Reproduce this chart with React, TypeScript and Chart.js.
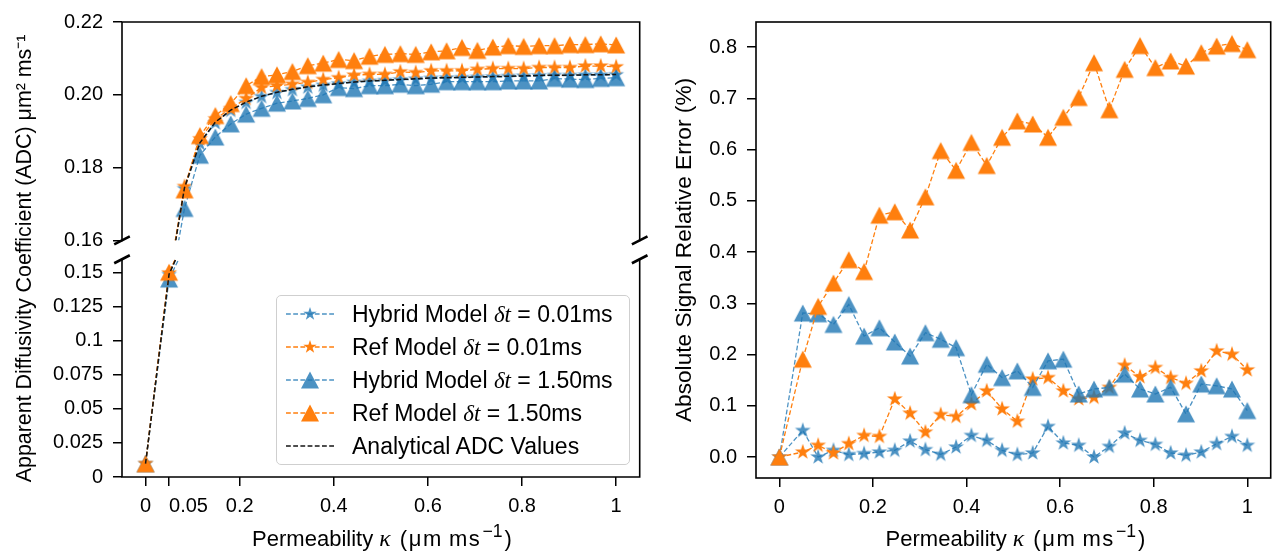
import React, { useEffect, useRef } from 'react';
import { Chart, registerables } from 'chart.js';

Chart.register(...registerables);

const FONT = "'Liberation Sans', Arial, sans-serif";
const MATH = "'Liberation Serif', 'DejaVu Serif', serif";

// ---------------- data ----------------
const kappa = [0, 0.05, 0.0828, 0.1155, 0.1483, 0.181, 0.2138, 0.2466, 0.2793, 0.3121, 0.3448, 0.3776, 0.4103, 0.4431, 0.4759, 0.5086, 0.5414, 0.5741, 0.6069, 0.6397, 0.6724, 0.7052, 0.7379, 0.7707, 0.8034, 0.8362, 0.869, 0.9017, 0.9345, 0.9672, 1.0];

const adcHybridFine = [0.0098, 0.1488, 0.1742, 0.1866, 0.1923, 0.1957, 0.1979, 0.1995, 0.2006, 0.2014, 0.2021, 0.2026, 0.203, 0.2034, 0.2037, 0.2039, 0.2041, 0.2043, 0.2045, 0.2046, 0.2047, 0.2048, 0.2049, 0.205, 0.2051, 0.2052, 0.2053, 0.2053, 0.2054, 0.2054, 0.2055];
const adcRefFine = [0.0099, 0.15, 0.1748, 0.1879, 0.1934, 0.1962, 0.199, 0.202, 0.2025, 0.2029, 0.2034, 0.2042, 0.2047, 0.2054, 0.2056, 0.2056, 0.2063, 0.2061, 0.2066, 0.2066, 0.2066, 0.207, 0.2072, 0.2072, 0.2072, 0.2075, 0.2075, 0.2075, 0.2079, 0.2079, 0.2077];
const adcHybridCoarse = [0.0097, 0.1455, 0.1688, 0.1834, 0.1884, 0.192, 0.1947, 0.1963, 0.1977, 0.1983, 0.199, 0.2, 0.202, 0.2017, 0.2025, 0.2025, 0.2029, 0.2025, 0.2029, 0.2036, 0.2036, 0.2036, 0.2036, 0.2038, 0.2038, 0.2038, 0.2045, 0.2043, 0.2042, 0.2045, 0.2047];
const adcRefCoarse = [0.0097, 0.1505, 0.1739, 0.1888, 0.1943, 0.1976, 0.2025, 0.205, 0.2055, 0.2064, 0.208, 0.2087, 0.2097, 0.2094, 0.2106, 0.2111, 0.2113, 0.2111, 0.2118, 0.2121, 0.213, 0.2122, 0.2131, 0.2135, 0.2133, 0.2135, 0.2135, 0.2138, 0.2138, 0.214, 0.2137];
const adcAnalytical = [0.0098, 0.149, 0.1745, 0.1868, 0.1925, 0.1958, 0.198, 0.1996, 0.2007, 0.2015, 0.2022, 0.2027, 0.2031, 0.2035, 0.2038, 0.204, 0.2042, 0.2044, 0.2046, 0.2047, 0.2048, 0.2049, 0.205, 0.2051, 0.2052, 0.2053, 0.2054, 0.2054, 0.2055, 0.2055, 0.2056];

const errHybridFine = [0, 0.0518, 0.0, 0.013, 0.0047, 0.0066, 0.0097, 0.013, 0.031, 0.0143, 0.0052, 0.0194, 0.042, 0.0324, 0.013, 0.0047, 0.0078, 0.0596, 0.0272, 0.0227, 0.0, 0.0207, 0.0466, 0.0324, 0.0246, 0.0078, 0.0033, 0.0097, 0.026, 0.04, 0.0227];
const errRefFine = [0, 0.0097, 0.0227, 0.0078, 0.026, 0.042, 0.04, 0.1133, 0.0854, 0.0485, 0.0828, 0.079, 0.1036, 0.129, 0.0939, 0.0698, 0.152, 0.155, 0.129, 0.1133, 0.1164, 0.1358, 0.179, 0.1565, 0.1746, 0.155, 0.1436, 0.168, 0.207, 0.2005, 0.17];
const errHybridCoarse = [0, 0.281, 0.2795, 0.2588, 0.2976, 0.236, 0.2522, 0.2245, 0.197, 0.2425, 0.2297, 0.2134, 0.1216, 0.181, 0.155, 0.168, 0.1358, 0.1876, 0.191, 0.123, 0.1327, 0.1358, 0.1618, 0.1327, 0.123, 0.136, 0.0842, 0.1424, 0.139, 0.1327, 0.0906];
const errRefCoarse = [0, 0.191, 0.294, 0.3395, 0.385, 0.362, 0.472, 0.4786, 0.443, 0.5077, 0.598, 0.5595, 0.614, 0.569, 0.624, 0.656, 0.65, 0.624, 0.663, 0.7017, 0.7695, 0.6778, 0.7566, 0.803, 0.76, 0.773, 0.763, 0.789, 0.802, 0.807, 0.795];

const seriesNames = ['Hybrid Model', 'Ref Model', 'Hybrid Model', 'Ref Model', 'Analytical ADC Values'];
const seriesSteps = ['0.01ms', '0.01ms', '1.50ms', '1.50ms', ''];

const xTicksLeft = [0, 0.05, 0.2, 0.4, 0.6, 0.8, 1];
// the 0.05 label sits to the right of its tick (left-aligned), as in the source figure
const xTickLabelsLeft = ['0', '       0.05', '0.2', '0.4', '0.6', '0.8', '1'];
const yTopTicks = [0.16, 0.18, 0.2, 0.22];
const yTopTickLabels = ['0.16', '0.18', '0.20', '0.22'];
const yBotTicks = [0, 0.025, 0.05, 0.075, 0.1, 0.125, 0.15];
const yBotTickLabels = ['0', '0.025', '0.05', '0.075', '0.1', '0.125', '0.15'];
const xTicksRight = [0, 0.2, 0.4, 0.6, 0.8, 1];
const xTickLabelsRight = ['0', '0.2', '0.4', '0.6', '0.8', '1'];
const yRightTicks = [0, 0.1, 0.2, 0.3, 0.4, 0.5, 0.6, 0.7, 0.8];
const yRightTickLabels = ['0.0', '0.1', '0.2', '0.3', '0.4', '0.5', '0.6', '0.7', '0.8'];

// ---------------- styles ----------------
const BLUE = 'rgba(31,119,180,0.8)';
const ORANGE = 'rgb(255,127,14)';
const BLACK = 'rgb(20,20,20)';
const TICK_SIZE = 20;
const LEGEND_SIZE = 23;
const STAR_R = 8.3;
const TRI_W = 18;
const TRI_H = 17;
const DASH = [4.8, 2.4];

type Kind = 'star' | 'tri';

function starPts(cx: number, cy: number, R: number): number[][] {
  const pts: number[][] = [];
  for (let i = 0; i < 10; i++) {
    const r = i % 2 === 0 ? R : R * 0.381966;
    const a = -Math.PI / 2 + (i * Math.PI) / 5;
    pts.push([cx + r * Math.cos(a), cy + r * Math.sin(a)]);
  }
  return pts;
}
function triPts(cx: number, cy: number, W: number, H: number): number[][] {
  return [[cx, cy - H / 2], [cx + W / 2, cy + H / 2], [cx - W / 2, cy + H / 2]];
}
function markerPts(kind: Kind, cx: number, cy: number, scale = 1) {
  return kind === 'star' ? starPts(cx, cy, STAR_R * scale) : triPts(cx, cy, TRI_W * scale, TRI_H * scale);
}

function makeMarker(kind: Kind, color: string): HTMLCanvasElement {
  const c = document.createElement('canvas');
  const S = 22;
  c.width = S;
  c.height = S;
  const ctx = c.getContext('2d')!;
  ctx.fillStyle = color;
  ctx.beginPath();
  markerPts(kind, S / 2, S / 2).forEach(([x, y], i) => (i ? ctx.lineTo(x, y) : ctx.moveTo(x, y)));
  ctx.closePath();
  ctx.fill();
  return c;
}

const clipPlugin = {
  id: 'scaleClip',
  beforeDatasetDraw(chart: any, args: any) {
    const meta = args.meta;
    const xs = meta.xScale;
    const ys = meta.yScale;
    const ctx = chart.ctx;
    ctx.save();
    ctx.beginPath();
    ctx.rect(xs.left, ys.top, xs.right - xs.left, ys.bottom - ys.top);
    ctx.clip();
  },
  afterDatasetDraw(chart: any) {
    chart.ctx.restore();
  },
};

const frameLeft = {
  id: 'frameLeft',
  afterDraw(chart: any) {
    const ctx = chart.ctx;
    const { left, right } = chart.chartArea;
    const t = chart.scales.yTop;
    const b = chart.scales.yBot;
    ctx.save();
    ctx.strokeStyle = '#000';
    ctx.lineWidth = 1.6;
    ctx.lineCap = 'square';
    ctx.beginPath();
    ctx.moveTo(left, t.bottom);
    ctx.lineTo(left, t.top);
    ctx.lineTo(right, t.top);
    ctx.lineTo(right, t.bottom);
    ctx.moveTo(left, b.top);
    ctx.lineTo(left, b.bottom);
    ctx.lineTo(right, b.bottom);
    ctx.lineTo(right, b.top);
    ctx.stroke();
    ctx.lineWidth = 2.6;
    ctx.lineCap = 'butt';
    ctx.beginPath();
    for (const x of [left, right]) {
      for (const y of [t.bottom, b.top]) {
        ctx.moveTo(x - 7.8, y + 4);
        ctx.lineTo(x + 7.8, y - 4);
      }
    }
    ctx.stroke();
    ctx.restore();
  },
};

const frameRight = {
  id: 'frameRight',
  afterDraw(chart: any) {
    const ctx = chart.ctx;
    const { left, right, top, bottom } = chart.chartArea;
    ctx.save();
    ctx.strokeStyle = '#000';
    ctx.lineWidth = 1.6;
    ctx.strokeRect(left, top, right - left, bottom - top);
    ctx.restore();
  },
};

function gridTicks() {
  return { display: true, drawOnChartArea: false, drawTicks: true, tickLength: 9, color: '#000', lineWidth: 1.5 };
}
function tickOpts(labels: string[], padding: number) {
  return {
    autoSkip: false,
    maxRotation: 0,
    minRotation: 0,
    padding,
    color: '#000',
    font: { family: FONT, size: TICK_SIZE },
    callback: (_v: any, i: number) => labels[i],
  };
}
function fixedTicks(values: number[]) {
  return (s: any) => {
    s.ticks = values.map((v) => ({ value: v }));
  };
}

function lineDs(label: string, xs: number[], ys: number[], color: string, marker: any, yAxisID: string, order: number) {
  return {
    label,
    data: xs.map((x, i) => ({ x, y: ys[i] })),
    borderColor: color,
    backgroundColor: color,
    borderWidth: 1.3,
    borderDash: DASH,
    pointStyle: marker,
    pointRadius: marker ? 9 : 0,
    pointHoverRadius: marker ? 9 : 0,
    tension: 0,
    fill: false,
    yAxisID,
    order,
  };
}

function XTitle({ center }: { center: number }) {
  return (
    <div
      style={{
        position: 'absolute',
        left: center - 200,
        top: 525,
        width: 400,
        height: 26,
        lineHeight: '26px',
        textAlign: 'center',
        fontFamily: FONT,
        fontSize: 22,
        color: '#000',
        whiteSpace: 'nowrap',
      }}
    >
      Permeability{' '}
      <span style={{ fontFamily: MATH, fontStyle: 'italic', fontSize: '1.08em', margin: '0 3px 0 0' }}>κ</span>{' '}
      <span style={{ letterSpacing: '1.6px' }}>(μm&#8201;ms</span>
      <span style={{ fontSize: '0.8em', position: 'relative', top: '-0.5em', lineHeight: 0, margin: '0 2px 0 1px' }}>−1</span>)
    </div>
  );
}

function Legend() {
  const kinds: (Kind | null)[] = ['star', 'star', 'tri', 'tri', null];
  const colors = [BLUE, ORANGE, BLUE, ORANGE, BLACK];
  return (
    <div
      style={{
        position: 'absolute',
        left: 276,
        top: 295,
        width: 354,
        height: 170,
        boxSizing: 'border-box',
        border: '1.4px solid #cfcfcf',
        borderRadius: 5,
        background: 'rgba(255,255,255,0.8)',
      }}
    >
      {seriesNames.map((name, i) => {
        const cy = 18 + 32.9 * i;
        const k = kinds[i];
        return (
          <div key={i} style={{ position: 'absolute', left: 0, top: cy - 14, height: 28, width: 350 }}>
            <svg width={60} height={28} style={{ position: 'absolute', left: 0, top: 0 }}>
              <line x1={9} y1={14} x2={57} y2={14} stroke={colors[i]} strokeWidth={k ? 1.3 : 1.5} strokeDasharray={DASH.join(' ')} />
              {k ? (
                <polygon points={markerPts(k, 33, 14, k === 'star' ? 0.85 : 1).map((p) => p.join(',')).join(' ')} fill={colors[i]} />
              ) : null}
            </svg>
            <div
              style={{
                position: 'absolute',
                left: 75,
                top: 0,
                height: 28,
                lineHeight: '28px',
                fontFamily: FONT,
                fontSize: LEGEND_SIZE,
                color: '#000',
                whiteSpace: 'nowrap',
              }}
            >
              {name}
              {seriesSteps[i] ? (
                <>
                  {' '}
                  <span style={{ fontFamily: MATH, fontStyle: 'italic' }}>δt</span>
                  {' = ' + seriesSteps[i]}
                </>
              ) : null}
            </div>
          </div>
        );
      })}
    </div>
  );
}

export default function App() {
  const leftRef = useRef<HTMLCanvasElement>(null);
  const rightRef = useRef<HTMLCanvasElement>(null);

  useEffect(() => {
    Chart.defaults.font.family = FONT;
    Chart.defaults.color = '#000';
    const mk = {
      blueStar: makeMarker('star', BLUE),
      orangeStar: makeMarker('star', ORANGE),
      blueTri: makeMarker('tri', BLUE),
      orangeTri: makeMarker('tri', ORANGE),
    };
    const seriesL = [
      { name: 'Hybrid Model δt = 0.01ms', ys: adcHybridFine, color: BLUE, m: mk.blueStar, order: 4 },
      { name: 'Ref Model δt = 0.01ms', ys: adcRefFine, color: ORANGE, m: mk.orangeStar, order: 3 },
      { name: 'Hybrid Model δt = 1.50ms', ys: adcHybridCoarse, color: BLUE, m: mk.blueTri, order: 2 },
      { name: 'Ref Model δt = 1.50ms', ys: adcRefCoarse, color: ORANGE, m: mk.orangeTri, order: 1 },
      { name: 'Analytical ADC Values', ys: adcAnalytical, color: BLACK, m: null, order: 0 },
    ];
    const leftDatasets: any[] = [];
    for (const s of seriesL) {
      leftDatasets.push(lineDs(s.name, kappa, s.ys, s.color, s.m, 'yTop', s.order));
      leftDatasets.push(lineDs(s.name, kappa, s.ys, s.color, s.m, 'yBot', s.order));
    }
    leftDatasets.forEach((d) => {
      if (d.label === 'Analytical ADC Values') d.borderWidth = 1.5;
    });

    const left = new Chart(leftRef.current!, {
      type: 'line',
      data: { datasets: leftDatasets },
      options: {
        animation: false,
        responsive: false,
        maintainAspectRatio: false,
        events: [],
        layout: { padding: { left: 0, top: 19, right: 9, bottom: 0 } },
        plugins: { legend: { display: false }, tooltip: { enabled: false } },
        scales: {
          x: {
            type: 'linear',
            position: 'bottom',
            min: -0.05,
            max: 1.05,
            afterBuildTicks: fixedTicks(xTicksLeft),
            afterFit: (s: any) => {
              s.height = 80;
            },
            ticks: tickOpts(xTickLabelsLeft, 8),
            grid: gridTicks(),
            border: { display: false },
          },
          yTitle: {
            type: 'linear',
            position: 'left',
            weight: 10,
            min: 0,
            max: 1,
            afterFit: (s: any) => {
              s.width = 40;
            },
            ticks: { display: false },
            grid: { display: false, drawTicks: false },
            border: { display: false },
            title: {
              display: true,
              text: 'Apparent Diffusivity Coefficient (ADC) μm² ms⁻¹   ',
              font: { family: FONT, size: 21.4 },
              color: '#000',
              padding: { top: 12, bottom: 0 },
            },
          },
          yTop: {
            type: 'linear',
            position: 'left',
            stack: 'adc',
            stackWeight: 220,
            weight: 3,
            min: 0.16,
            max: 0.22,
            afterBuildTicks: fixedTicks(yTopTicks),
            afterFit: (s: any) => {
              s.width = 82;
            },
            ticks: tickOpts(yTopTickLabels, 10),
            grid: gridTicks(),
            border: { display: false },
          },
          yGap: {
            type: 'linear',
            position: 'left',
            stack: 'adc',
            stackWeight: 19,
            weight: 2,
            display: false,
            min: 0,
            max: 1,
          },
          yBot: {
            type: 'linear',
            position: 'left',
            stack: 'adc',
            stackWeight: 219.3,
            weight: 1,
            min: 0,
            max: 0.16,
            afterBuildTicks: fixedTicks(yBotTicks),
            afterFit: (s: any) => {
              s.width = 82;
            },
            ticks: tickOpts(yBotTickLabels, 10),
            grid: gridTicks(),
            border: { display: false },
          },
        },
      } as any,
      plugins: [clipPlugin, frameLeft],
    });

    const seriesR = [
      { name: 'Hybrid Model δt = 0.01ms', ys: errHybridFine, color: BLUE, m: mk.blueStar, order: 3 },
      { name: 'Ref Model δt = 0.01ms', ys: errRefFine, color: ORANGE, m: mk.orangeStar, order: 2 },
      { name: 'Hybrid Model δt = 1.50ms', ys: errHybridCoarse, color: BLUE, m: mk.blueTri, order: 1 },
      { name: 'Ref Model δt = 1.50ms', ys: errRefCoarse, color: ORANGE, m: mk.orangeTri, order: 0 },
    ];
    const right = new Chart(rightRef.current!, {
      type: 'line',
      data: { datasets: seriesR.map((s) => lineDs(s.name, kappa, s.ys, s.color, s.m, 'y', s.order)) },
      options: {
        animation: false,
        responsive: false,
        maintainAspectRatio: false,
        events: [],
        layout: { padding: { left: 0, top: 19, right: 6, bottom: 0 } },
        plugins: { legend: { display: false }, tooltip: { enabled: false } },
        scales: {
          x: {
            type: 'linear',
            position: 'bottom',
            min: -0.05,
            max: 1.05,
            afterBuildTicks: fixedTicks(xTicksRight),
            afterFit: (s: any) => {
              s.height = 79;
            },
            ticks: tickOpts(xTickLabelsRight, 8),
            grid: gridTicks(),
            border: { display: false },
          },
          y: {
            type: 'linear',
            position: 'left',
            min: -0.041,
            max: 0.849,
            afterBuildTicks: fixedTicks(yRightTicks),
            afterFit: (s: any) => {
              s.width = 106;
            },
            ticks: tickOpts(yRightTickLabels, 10),
            grid: gridTicks(),
            border: { display: false },
            title: {
              display: true,
              text: 'Absolute Signal Relative Error (%)',
              font: { family: FONT, size: 22.7 },
              color: '#000',
              padding: { top: 21, bottom: 0 },
            },
          },
        },
      } as any,
      plugins: [clipPlugin, frameRight],
    });

    return () => {
      left.destroy();
      right.destroy();
    };
  }, []);

  return (
    <div style={{ position: 'absolute', left: 0, top: 0, width: 1281, height: 557, background: '#fff', overflow: 'hidden' }}>
      <canvas ref={leftRef} width={650} height={557} style={{ position: 'absolute', left: 0, top: 0, width: 650, height: 557 }} />
      <canvas ref={rightRef} width={631} height={557} style={{ position: 'absolute', left: 650, top: 0, width: 631, height: 557 }} />
      <XTitle center={382} />
      <XTitle center={1015.5} />
      <Legend />
    </div>
  );
}
